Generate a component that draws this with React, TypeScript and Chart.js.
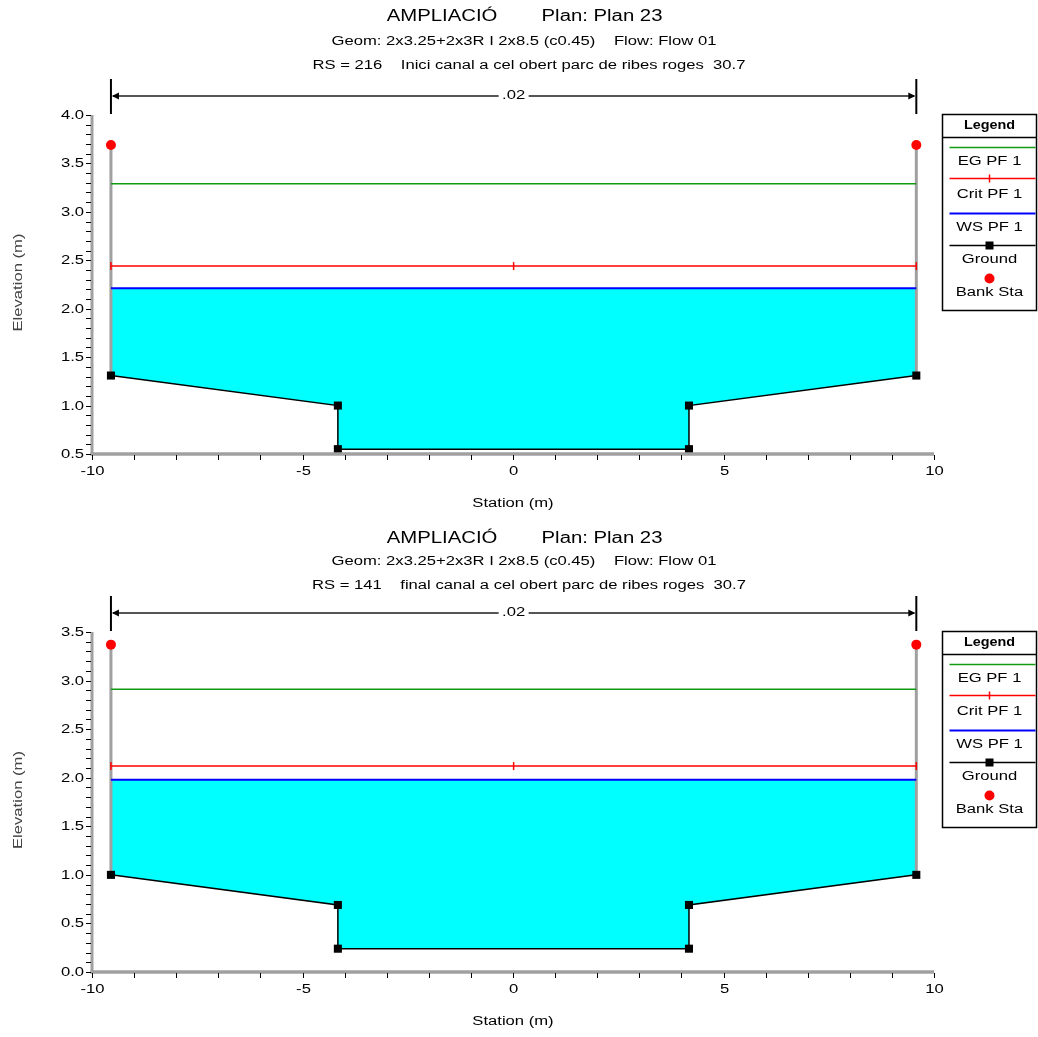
import React, { useEffect, useRef } from 'react';
import { Chart, registerables } from 'chart.js';

Chart.register(...registerables);

// ---------- data ----------
const stations = [-9.55, -4.16, -4.16, 4.18, 4.18, 9.58];
const groundUpstream = [1.31, 1.0, 0.55, 0.55, 1.0, 1.31];
const groundDownstream = [1.0, 0.69, 0.24, 0.24, 0.69, 1.0];
const bankStations = [-9.55, 9.58];
const bankElevUpstream = [3.69, 3.69];
const bankElevDownstream = [3.37, 3.37];
const egElev = [3.29, 2.91];
const critElev = [2.44, 2.12];
const wsElev = [2.21, 1.98];
const yMins = [0.5, 0.0];
const yMaxs = [4.0, 3.5];
const xMin = -10;
const xMax = 10;
const xMinorStep = 1;
const xMajorStep = 5;
const yMinorStep = 0.1;
const yMajorStep = 0.5;
const titleMain = ['AMPLIACIÓ', 'Plan: Plan 23'];
const titleGeom = 'Geom: 2x3.25+2x3R I 2x8.5 (c0.45)    Flow: Flow 01';
const titleRS = [
  'RS = 216    Inici canal a cel obert parc de ribes roges  30.7',
  'RS = 141    final canal a cel obert parc de ribes roges  30.7',
];
const manningN = '.02';
const legendLabels = ['EG PF 1', 'Crit PF 1', 'WS PF 1', 'Ground', 'Bank Sta'];
const xAxisTitle = 'Station (m)';
const yAxisTitle = 'Elevation (m)';

// ---------- styles ----------
const FONT = '"Liberation Sans", Arial, sans-serif';
const STRETCH = 1.33;
const FS = 12.5;
const C_EG = '#139a13';
const C_CRIT = '#ff0000';
const C_WS = '#0000ff';
const C_GROUND = '#000000';
const C_BANK = '#ff0000';
const C_WATER = '#00ffff';
const C_AXIS = '#a0a0a0';

function txt(ctx: CanvasRenderingContext2D, s: string, x: number, y: number, o: any = {}) {
  ctx.save();
  ctx.translate(x, y);
  if (o.rotate) ctx.rotate(o.rotate);
  ctx.scale(o.stretch ?? STRETCH, 1);
  ctx.font = `${o.bold ? 'bold ' : ''}${o.size ?? FS}px ${FONT}`;
  ctx.fillStyle = o.color ?? '#000';
  ctx.textAlign = o.align ?? 'center';
  ctx.textBaseline = 'middle';
  ctx.fillText(s, 0, 0);
  ctx.restore();
}

function line(ctx: CanvasRenderingContext2D, x1: number, y1: number, x2: number, y2: number, color: string, w: number) {
  ctx.save();
  ctx.beginPath();
  ctx.moveTo(x1, y1);
  ctx.lineTo(x2, y2);
  ctx.strokeStyle = color;
  ctx.lineWidth = w;
  ctx.stroke();
  ctx.restore();
}

const decorPlugin = {
  id: 'decor',
  afterDatasetsDraw(chart: any) {
    const ctx: CanvasRenderingContext2D = chart.ctx;
    const o = chart.options.plugins.decor;
    const { left, right, top, bottom } = chart.chartArea;
    const xs = chart.scales.x;
    const ys = chart.scales.y;

    // axes
    line(ctx, left, top, left, bottom + 1.5, C_AXIS, 3);
    line(ctx, left - 1.5, bottom, right, bottom, C_AXIS, 3.5);

    // y ticks
    const nY = Math.round((o.yMax - o.yMin) / yMinorStep);
    for (let i = 0; i <= nY; i++) {
      const v = o.yMin + i * yMinorStep;
      const py = Math.round(ys.getPixelForValue(v)) + 0.5;
      line(ctx, left - 6, py, left - 1, py, '#000', 1);
      const r = v / yMajorStep;
      if (Math.abs(r - Math.round(r)) < 1e-6) {
        txt(ctx, v.toFixed(1), left - 8, py, { align: 'right' });
      }
    }
    // x ticks
    const nX = Math.round((xMax - xMin) / xMinorStep);
    for (let i = 0; i <= nX; i++) {
      const v = xMin + i * xMinorStep;
      const px = Math.round(xs.getPixelForValue(v)) + 0.5;
      line(ctx, px, bottom + 1, px, bottom + 6, '#000', 1);
      if (v % xMajorStep === 0) {
        txt(ctx, String(v), px, bottom + 18);
      }
    }
    // axis titles
    txt(ctx, xAxisTitle, (left + right) / 2, bottom + 50);
    txt(ctx, yAxisTitle, 19, (top + bottom) / 2 - 2, { rotate: -Math.PI / 2, color: '#444' });

    // titles
    const cx = 524;
    txt(ctx, titleMain[0], cx - 82, o.titleY[0], { size: 16, stretch: 1.27 });
    txt(ctx, titleMain[1], cx + 78, o.titleY[0], { size: 16, stretch: 1.27 });
    txt(ctx, titleGeom, cx, o.titleY[1]);
    txt(ctx, o.rs, cx + 5, o.titleY[2]);

    // manning n annotation
    const xl = xs.getPixelForValue(bankStations[0]);
    const xr = xs.getPixelForValue(bankStations[1]);
    const ay = top - 19;
    line(ctx, xl, top - 36, xl, top - 1, '#000', 2);
    line(ctx, xr, top - 36, xr, top - 1, '#000', 2);
    line(ctx, xl + 2, ay, xr - 2, ay, '#555', 1.8);
    ctx.save();
    ctx.fillStyle = '#000';
    ctx.beginPath();
    ctx.moveTo(xl + 1, ay); ctx.lineTo(xl + 8, ay - 3.5); ctx.lineTo(xl + 8, ay + 3.5); ctx.closePath(); ctx.fill();
    ctx.beginPath();
    ctx.moveTo(xr - 1, ay); ctx.lineTo(xr - 8, ay - 3.5); ctx.lineTo(xr - 8, ay + 3.5); ctx.closePath(); ctx.fill();
    ctx.restore();
    const mx = (xl + xr) / 2;
    ctx.save();
    ctx.fillStyle = '#fff';
    ctx.fillRect(mx - 15, ay - 7, 30, 14);
    ctx.restore();
    txt(ctx, manningN, mx, ay);

    // legend
    const lx = 942.5;
    const lw = 94;
    const lt = top - 0.5;
    const lh = 196;
    ctx.save();
    ctx.strokeStyle = '#000';
    ctx.lineWidth = 1.5;
    ctx.strokeRect(lx, lt, lw, lh);
    ctx.restore();
    line(ctx, lx, lt + 23, lx + lw, lt + 23, '#000', 1.5);
    const lcx = lx + lw / 2;
    txt(ctx, 'Legend', lcx, lt + 11, { bold: true, stretch: 1.15 });
    const l0 = lx + 7;
    const l1 = lx + lw - 1;
    // EG
    line(ctx, l0, lt + 33, l1, lt + 33, C_EG, 1.5);
    txt(ctx, legendLabels[0], lcx, lt + 47);
    // Crit
    line(ctx, l0, lt + 64, l1, lt + 64, C_CRIT, 1.5);
    line(ctx, lcx, lt + 60, lcx, lt + 68, C_CRIT, 1.5);
    txt(ctx, legendLabels[1], lcx, lt + 80);
    // WS
    line(ctx, l0, lt + 99, l1, lt + 99, C_WS, 2);
    txt(ctx, legendLabels[2], lcx, lt + 113);
    // Ground
    line(ctx, l0, lt + 131, l1, lt + 131, C_GROUND, 1.5);
    ctx.save();
    ctx.fillStyle = '#000';
    ctx.fillRect(lcx - 4, lt + 127, 8, 8);
    ctx.restore();
    txt(ctx, legendLabels[3], lcx, lt + 145);
    // Bank
    ctx.save();
    ctx.fillStyle = C_BANK;
    ctx.beginPath();
    ctx.arc(lcx, lt + 164, 5, 0, Math.PI * 2);
    ctx.fill();
    ctx.restore();
    txt(ctx, legendLabels[4], lcx, lt + 178);
  },
};

function buildConfig(p: any) {
  const n = stations.length;
  const groundPts = stations.map((s, i) => ({ x: s, y: p.ground[i] }));
  const waterPts = [
    { x: stations[0], y: p.ws },
    { x: stations[n - 1], y: p.ws },
    ...groundPts.slice().reverse(),
  ];
  const xL = stations[0];
  const xR = stations[n - 1];
  return {
    type: 'scatter',
    data: {
      datasets: [
        {
          label: 'water', data: waterPts, showLine: true, fill: 'shape',
          backgroundColor: C_WATER, borderWidth: 0, pointRadius: 0, order: 10,
        },
        {
          label: 'wallL', data: [{ x: bankStations[0], y: p.ground[0] }, { x: bankStations[0], y: p.bank[0] }],
          showLine: true, borderColor: C_AXIS, borderWidth: 3, pointRadius: 0, order: 9,
        },
        {
          label: 'wallR', data: [{ x: bankStations[1], y: p.ground[n - 1] }, { x: bankStations[1], y: p.bank[1] }],
          showLine: true, borderColor: C_AXIS, borderWidth: 3, pointRadius: 0, order: 9,
        },
        {
          label: legendLabels[0], data: [{ x: xL, y: p.eg }, { x: xR, y: p.eg }],
          showLine: true, borderColor: C_EG, borderWidth: 1.5, pointRadius: 0, order: 5,
        },
        {
          label: legendLabels[1], data: [{ x: xL, y: p.crit }, { x: (xL + xR) / 2, y: p.crit }, { x: xR, y: p.crit }],
          showLine: true, borderColor: C_CRIT, borderWidth: 1.5,
          pointStyle: 'line', rotation: 90, pointRadius: 4, pointBorderColor: C_CRIT, pointBorderWidth: 1.5, order: 5,
        },
        {
          label: legendLabels[2], data: [{ x: xL, y: p.ws }, { x: xR, y: p.ws }],
          showLine: true, borderColor: C_WS, borderWidth: 2, pointRadius: 0, order: 4,
        },
        {
          label: legendLabels[3], data: groundPts, showLine: true, borderColor: C_GROUND, borderWidth: 1.5,
          pointStyle: 'rect', pointRadius: 5.7, backgroundColor: '#000', pointBackgroundColor: '#000',
          pointBorderColor: '#000', pointBorderWidth: 0, order: 2,
        },
        {
          label: legendLabels[4], data: bankStations.map((s, i) => ({ x: s, y: p.bank[i] })),
          showLine: false, pointStyle: 'circle', pointRadius: 5, pointBackgroundColor: C_BANK,
          pointBorderColor: C_BANK, pointBorderWidth: 0, order: 1,
        },
      ],
    },
    options: {
      responsive: false,
      animation: false,
      devicePixelRatio: 1,
      layout: { padding: { left: 92, right: 104, top: p.padTop, bottom: 64 } },
      scales: {
        x: { type: 'linear', display: false, min: xMin, max: xMax },
        y: { type: 'linear', display: false, min: p.yMin, max: p.yMax },
      },
      plugins: {
        legend: { display: false },
        title: { display: false },
        tooltip: { enabled: false },
        decor: { yMin: p.yMin, yMax: p.yMax, titleY: p.titleY, rs: p.rs },
      },
    },
    plugins: [decorPlugin],
  };
}

const panels = [
  {
    ground: groundUpstream, bank: bankElevUpstream, eg: egElev[0], crit: critElev[0], ws: wsElev[0],
    yMin: yMins[0], yMax: yMaxs[0], rs: titleRS[0], titleY: [17, 42, 66], padTop: 115,
  },
  {
    ground: groundDownstream, bank: bankElevDownstream, eg: egElev[1], crit: critElev[1], ws: wsElev[1],
    yMin: yMins[1], yMax: yMaxs[1], rs: titleRS[1], titleY: [21, 44, 68], padTop: 114,
  },
];

function Panel({ p, top }: { p: any; top: number }) {
  const ref = useRef<HTMLCanvasElement>(null);
  useEffect(() => {
    const chart = new Chart(ref.current as HTMLCanvasElement, buildConfig(p) as any);
    return () => chart.destroy();
  }, []);
  return (
    <canvas
      ref={ref}
      width={1038}
      height={518}
      style={{ position: 'absolute', left: 0, top, width: 1038, height: 518 }}
    />
  );
}

export default function App() {
  return (
    <div style={{ position: 'absolute', left: 0, top: 0, width: 1038, height: 1037, background: '#fff' }}>
      <Panel p={panels[0]} top={0} />
      <Panel p={panels[1]} top={518} />
    </div>
  );
}
